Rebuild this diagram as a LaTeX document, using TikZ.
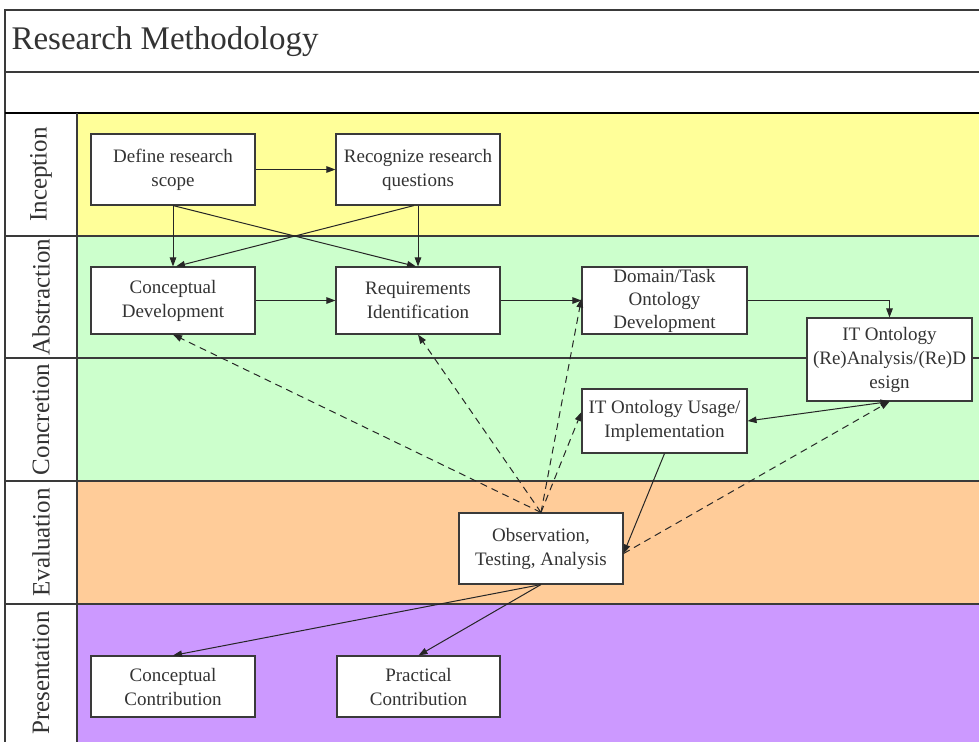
\documentclass[tikz,border=0pt]{standalone}
\usepackage{fontspec}
\setmainfont{Liberation Serif}
\usetikzlibrary{arrows.meta}
\definecolor{cyel}{HTML}{FFFF99}
\definecolor{cgrn}{HTML}{CCFFCC}
\definecolor{corg}{HTML}{FFCC99}
\definecolor{cpur}{HTML}{CC99FF}
\definecolor{cline}{HTML}{3A3A3A}
\begin{document}
\begin{tikzpicture}[x=1pt,y=-1pt,
  box/.style={draw=cline,line width=1.1pt,fill=white,align=center,inner sep=2pt,
    font=\fontsize{19}{24}\selectfont,text=black!80},
  lane/.style={font=\fontsize{25}{28}\selectfont,rotate=90,text=black!80},
  grid/.style={draw=cline,line width=1.4pt},
  arr/.style={draw=black!85,line width=1pt,-{Triangle[length=9pt,width=6.5pt]}},
  darr/.style={arr,dash pattern=on 7pt off 5pt}]
\useasboundingbox (0,0) rectangle (979,742);
\fill[white] (0,0) rectangle (979,742);
% lanes
\fill[cyel] (77,113) rectangle (979,236);
\fill[cgrn] (77,236) rectangle (979,481);
\fill[corg] (77,481) rectangle (979,604);
\fill[cpur] (77,604) rectangle (979,742);
% grid lines
\draw[grid] (979,10) -- (5,10) -- (5,742);
\draw[grid] (5,72) -- (979,72);
\draw[grid,draw=black] (5,113) -- (979,113);
\draw[grid] (5,236) -- (979,236);
\draw[grid] (5,358) -- (979,358);
\draw[grid] (5,481) -- (979,481);
\draw[grid] (5,604) -- (979,604);
\draw[grid] (77,113) -- (77,742);
% title and lane labels
\node[anchor=west,font=\fontsize{33}{36}\selectfont,text=black!80] (title) at (8,42) {Research Methodology};
\node[lane] (lin) at (41,174.5) {Inception};
\node[lane] (lab) at (41,297) {Abstraction};
\node[lane] (lco) at (41,419.5) {Concretion};
\node[lane] (lev) at (41,542.5) {Evaluation};
\node[lane] (lpr) at (41,673) {Presentation};
% boxes
\node[box,minimum width=164pt,minimum height=71pt] (def) at (173,169.5) {Define research\\scope};
\node[box,minimum width=164pt,minimum height=71pt] (rec) at (418,169.5) {Recognize research\\questions};
\node[box,minimum width=164pt,minimum height=67pt] (con) at (173,300.5) {Conceptual\\Development};
\node[box,minimum width=164pt,minimum height=67pt] (req) at (418,300.5) {Requirements\\Identification};
\node[box,minimum width=165pt,minimum height=67pt,font=\fontsize{19}{23}\selectfont,inner sep=0pt] (dom) at (664.5,300.5) {Domain/Task\\Ontology\\Development};
\node[box,minimum width=165pt,minimum height=83pt] (re) at (889.5,359.5) {IT Ontology\\(Re)Analysis/(Re)D\\esign};
\node[box,minimum width=165pt,minimum height=64pt] (use) at (664.5,421) {IT Ontology Usage/\\Implementation};
\node[box,minimum width=164pt,minimum height=71pt] (obs) at (541,548.5) {Observation,\\Testing, Analysis};
\node[box,minimum width=164pt,minimum height=61pt] (cc) at (173,686.5) {Conceptual\\Contribution};
\node[box,minimum width=163pt,minimum height=61pt] (pc) at (418.5,686.5) {Practical\\Contribution};
% solid connectors
\draw[arr] (def.east) -- (rec.west);
\draw[arr] (def.south) -- (con.north);
\draw[arr] (def.south) -- ([xshift=-2pt]req.north);
\draw[arr] (rec.south) -- (req.north);
\draw[arr] ([xshift=-4pt]rec.south) -- ([xshift=3pt]con.north);
\draw[arr] (con.east) -- (req.west);
\draw[arr] (req.east) -- (dom.west);
\draw[arr] (dom.east) -| (re.north);
\draw[arr,{Triangle[length=9pt,width=6.5pt]}-{Triangle[length=9pt,width=6.5pt]}] (use.east) -- (re.south);
\draw[arr] (use.south) -- ([yshift=-5pt]obs.east);
\draw[arr] (obs.south) -- (cc.north);
\draw[arr] (obs.south) -- (pc.north);
% dashed connectors
\draw[darr] (obs.north) -- (con.south);
\draw[darr] (obs.north) -- (req.south);
\draw[darr] (obs.north) -- ([yshift=2pt]dom.west);
\draw[darr] (obs.north) -- ([yshift=9pt]use.west);
\draw[darr] ([yshift=-5pt]obs.east) -- (re.south);
\end{tikzpicture}
\end{document}
